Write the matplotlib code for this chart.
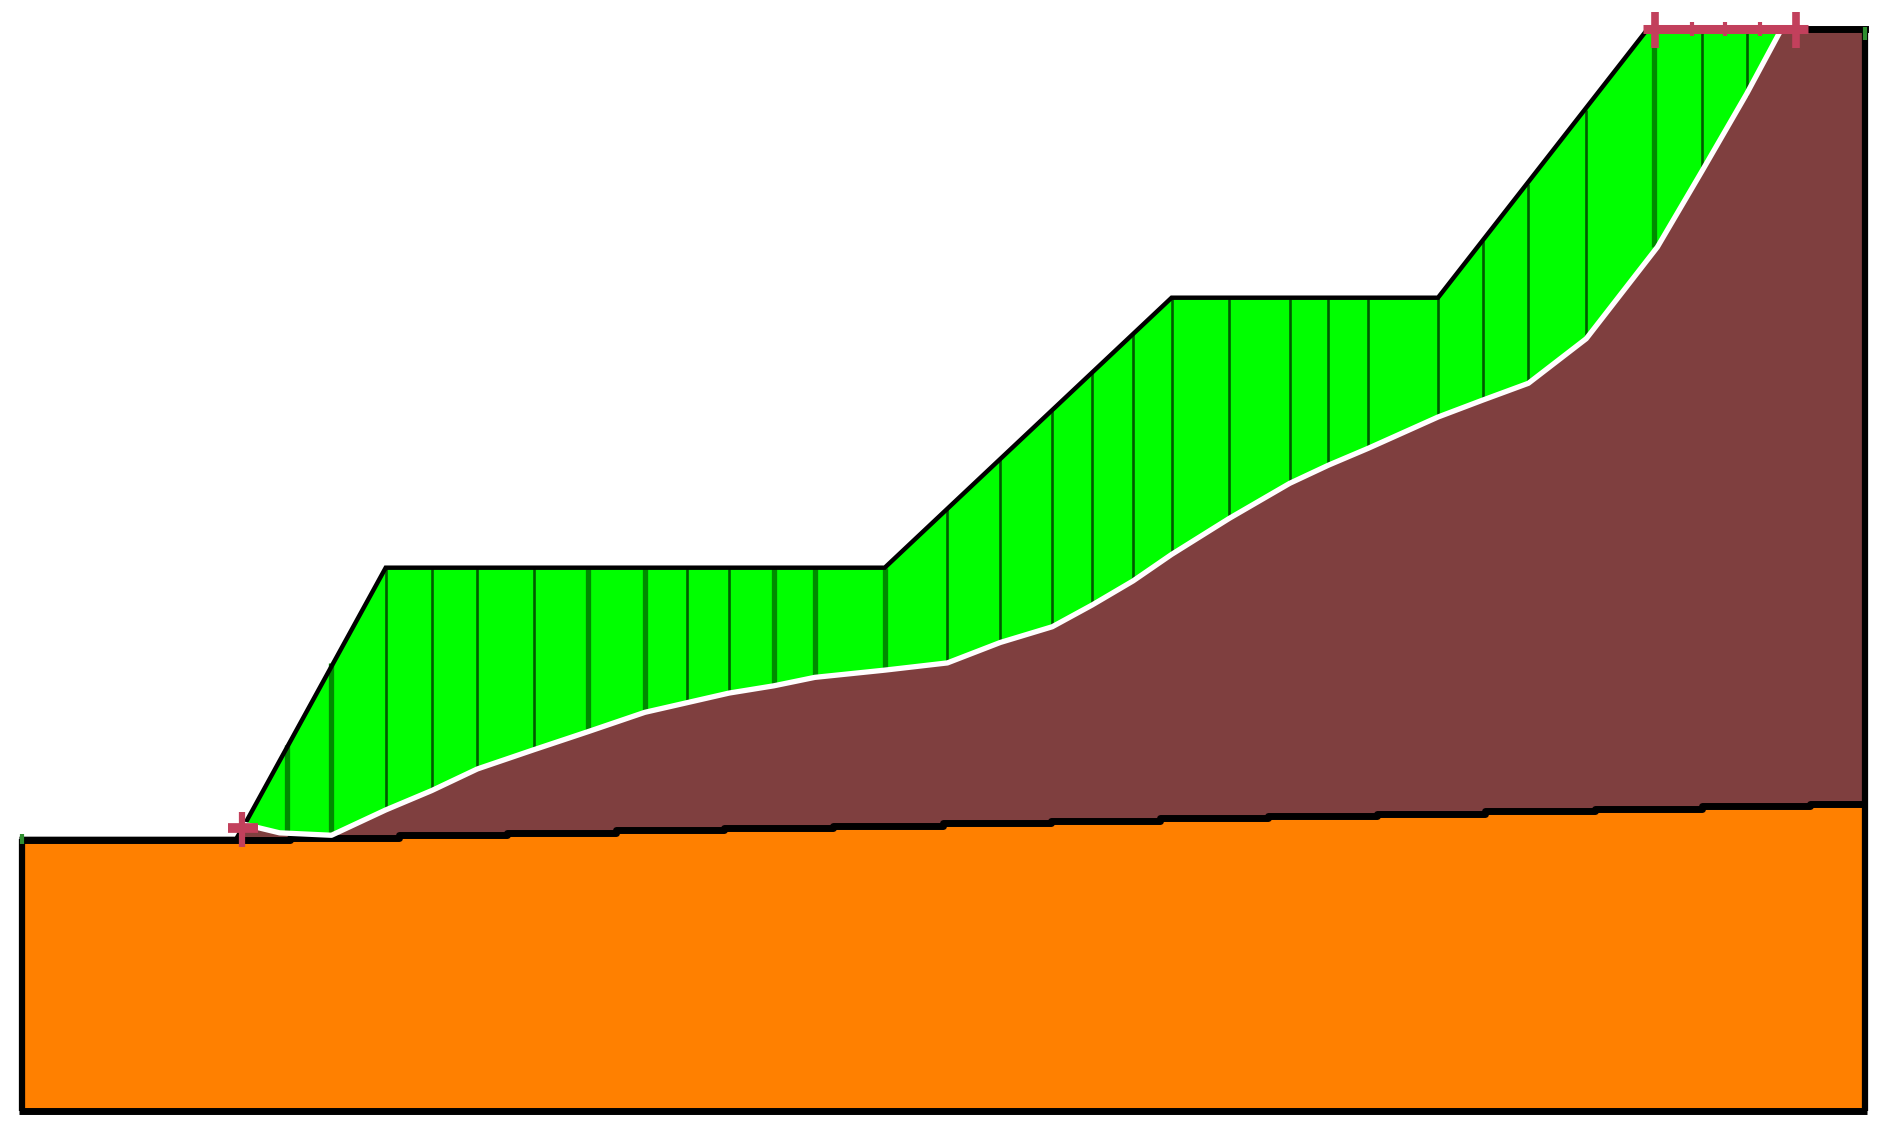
import matplotlib
matplotlib.use('Agg')
import matplotlib.pyplot as plt

# all coordinates, in drawing units (y grows downward)
ground_x = [18, 196, 203, 320, 734, 972, 1193, 1367, 1547]
ground_y = [696, 696, 684, 471, 471, 247, 247, 24, 24]

slip_x = [203, 232, 275, 320, 358, 396, 443, 488, 535, 570, 605, 642, 676, 734, 786, 830, 873, 906, 940, 972,
          1020, 1070, 1102, 1135, 1193, 1230, 1268, 1316, 1375, 1412, 1449, 1478]
slip_y = [684, 691, 693, 672, 656, 638, 622, 607, 591, 583, 575, 569, 562, 556, 550, 533, 520, 502, 482, 460,
          430, 401, 386, 372, 346, 332, 318, 281, 205, 142, 78, 24]

slice_x = [238, 275, 320, 358, 396, 443, 488, 535, 570, 605, 642, 676, 734, 786, 830, 873, 906, 940, 972,
           1020, 1070, 1102, 1135, 1193, 1230, 1268, 1316, 1372, 1412, 1449]
slice_top = [618, 550, 471, 471, 471, 471, 471, 471, 471, 471, 471, 471, 471, 422, 381, 341, 309, 277, 247,
             247, 247, 247, 247, 247, 200, 153, 91, 24, 24, 24]
slice_bot = [690, 693, 672, 656, 638, 622, 607, 591, 583, 575, 569, 562, 556, 550, 533, 520, 502, 482, 460,
             430, 401, 386, 372, 346, 332, 318, 281, 205, 142, 80]
slice_wide = [238, 275, 488, 535, 642, 676, 734, 1372]

rock_x = [18, 241, 331, 421, 511, 601, 691, 782, 872, 962, 1052, 1142, 1232, 1323, 1412, 1502, 1547]
rock_y = [697, 695, 693, 691, 689, 687, 685, 683, 681, 679, 677, 675, 673, 671, 669, 667, 667]

bottom = 922
left = 18
right = 1547

crest_x = [1363, 1500]
crest_y = [24, 24]
crest_marks_x = [1373, 1490]
crest_small_x = [1404, 1431, 1460]
toe_x = 201
toe_y = 687

fig = plt.figure(figsize=(18.9, 11.39), dpi=100)
ax = fig.add_axes([0, 0, 1, 1])
ax.set_xlim(0, 1568)
ax.set_ylim(945, 0)
ax.axis('off')

ax.fill(ground_x + [right, left], ground_y + [bottom, bottom], color='#7f3f3f', lw=0)
ax.fill_between(rock_x, rock_y, bottom, step='post', color='#ff8000', lw=0)
ax.fill(ground_x[2:-1] + slip_x[::-1], ground_y[2:-1] + slip_y[::-1], color='#00ff00', lw=0)

for x, t, b in zip(slice_x, slice_top, slice_bot):
    if x in slice_wide:
        ax.plot([x, x], [t, b], color='#008a00', lw=3.8, solid_capstyle='butt')
    else:
        ax.plot([x, x], [t, b], color='#005c00', lw=1.9, solid_capstyle='butt')

ax.step(rock_x, rock_y, where='post', color='black', lw=5.0, solid_capstyle='butt')
ax.plot(ground_x[:8], ground_y[:8], color='black', lw=3.2, solid_joinstyle='miter')
ax.plot([ground_x[7], right], [24, 24], color='black', lw=5.0)
ax.plot([left, left], [696, bottom], color='black', lw=4.5, solid_capstyle='butt')
ax.plot([right, right], [24, bottom], color='black', lw=4.5, solid_capstyle='butt')
ax.plot([left - 2, right + 2], [bottom, bottom], color='black', lw=5.0, solid_capstyle='butt')
ax.plot(slip_x, slip_y, color='white', lw=3.8, solid_joinstyle='round')

# small green stubs on top of the two side walls
ax.plot([left, left], [692, 700], color='#2f8f2f', lw=3.0, solid_capstyle='butt')
ax.plot([right, right], [22, 33], color='#2f8f2f', lw=3.0, solid_capstyle='butt')

pink = '#c2405c'
ax.plot(crest_x, crest_y, color=pink, lw=6.5, solid_capstyle='butt')
for x in crest_marks_x:
    ax.plot([x, x], [10, 40], color=pink, lw=5.5, solid_capstyle='butt')
for x in crest_small_x:
    ax.plot([x, x], [18, 30], color=pink, lw=3.0, solid_capstyle='butt')
ax.plot([toe_x, toe_x], [674, 703], color=pink, lw=4.5, solid_capstyle='butt')
ax.plot([toe_x - 12, toe_x + 13], [toe_y, toe_y], color=pink, lw=7.0, solid_capstyle='butt')

fig.savefig('out.png', dpi=100, facecolor='white')
